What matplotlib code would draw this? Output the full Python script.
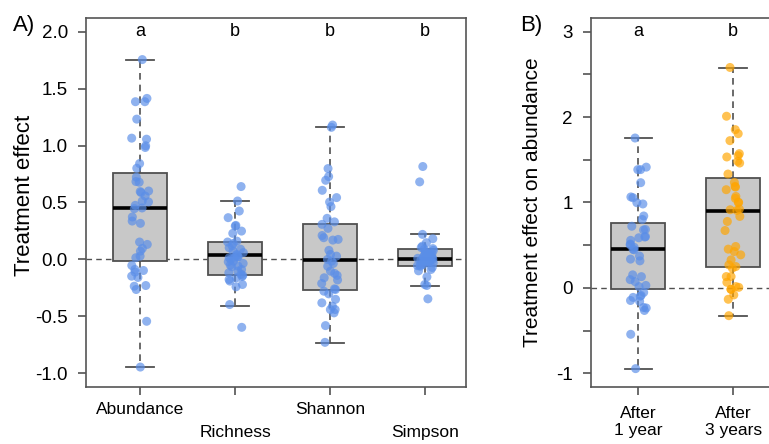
import numpy as np
import matplotlib
matplotlib.use("Agg")
import matplotlib.pyplot as plt

plt.rcParams['font.family'] = ['Liberation Sans', 'DejaVu Sans']

# ---------------- data ----------------
categories_a = ["Abundance", "Richness", "Shannon", "Simpson"]
letters_a = ["a", "b", "b", "b"]
categories_b = ["After\n1 year", "After\n3 years"]
letters_b = ["a", "b"]

abundance = [1.755, 1.414, 1.385, 1.385, 1.232, 1.056, 1.065, 0.998, 0.983, 0.842,
             0.801, 0.722, 0.684, 0.678, 0.596, 0.587, 0.601, 0.557, 0.513, 0.505,
             0.475, 0.446, 0.452, 0.373, 0.337, 0.317, 0.153, 0.132, 0.097, 0.073,
             0.029, 0.015, -0.053, -0.088, -0.097, -0.111, -0.158, -0.147, -0.229,
             -0.235, -0.264, -0.543, -0.945]
richness = [0.64, 0.513, 0.425, 0.367, 0.299, 0.293, 0.249, 0.229, 0.161, 0.153,
            0.14, 0.12, 0.103, 0.09, 0.073, 0.06, 0.044, 0.035, 0.023, 0.023,
            0.015, 0.01, 0.0, -0.015, -0.02, -0.035, -0.05, -0.059, -0.064, -0.088,
            -0.103, -0.117, -0.13, -0.14, -0.15, -0.161, -0.176, -0.19, -0.22, -0.24,
            -0.396, -0.596]
shannon = [1.18, 1.16, 0.798, 0.728, 0.695, 0.607, 0.543, 0.504, 0.464, 0.361,
           0.33, 0.308, 0.273, 0.21, 0.191, 0.176, 0.17, 0.08, 0.044, 0.029,
           0.0, -0.015, -0.035, -0.06, -0.103, -0.123, -0.14, -0.161, -0.18, -0.211,
           -0.258, -0.264, -0.279, -0.302, -0.35, -0.381, -0.411, -0.44, -0.44,
           -0.469, -0.581, -0.728]
simpson = [0.816, 0.681, 0.22, 0.182, 0.147, 0.117, 0.105, 0.095, 0.088, 0.08,
           0.07, 0.06, 0.05, 0.045, 0.04, 0.03, 0.025, 0.02, 0.015, 0.01,
           0.006, 0.003, 0.0, -0.005, -0.01, -0.015, -0.02, -0.025, -0.03, -0.035,
           -0.044, -0.05, -0.055, -0.06, -0.07, -0.088, -0.1, -0.153, -0.22, -0.229,
           -0.346]
after3 = [2.581, 2.01, 1.853, 1.806, 1.724, 1.572, 1.548, 1.533, 1.482, 1.462,
          1.333, 1.235, 1.181, 1.188, 1.15, 1.071, 1.048, 1.001, 1.001, 0.915,
          0.907, 0.923, 0.837, 0.778, 0.672, 0.485, 0.454, 0.426, 0.387, 0.328,
          0.27, 0.231, 0.25, 0.133, 0.133, 0.066, 0.016, 0.007, -0.016, -0.016,
          -0.082, -0.133, -0.325]

# box statistics: (whislo, q1, med, q3, whishi)
box_a = [(-0.948, -0.012, 0.452, 0.757, 1.755),
         (-0.405, -0.135, 0.038, 0.152, 0.513),
         (-0.734, -0.264, -0.006, 0.314, 1.159),
         (-0.232, -0.055, 0.006, 0.094, 0.22)]
box_b = [(-0.948, -0.012, 0.452, 0.757, 1.755),
         (-0.325, 0.25, 0.903, 1.29, 2.58)]

points_a = [abundance, richness, shannon, simpson]
points_b = [abundance, after3]

# ---------------- style ----------------
W, H = 769, 444
fig = plt.figure(figsize=(W / 100, H / 100), dpi=100)
axA = fig.add_axes([86 / W, 1 - 387 / H, (466 - 86) / W, (387 - 18) / H])
axB = fig.add_axes([591 / W, 1 - 387 / H, (780.5 - 591) / W, (387 - 18) / H])

edge = "#505050"
blue = "#5a8ee8"
orange = "#ffa500"
rng = np.random.default_rng(7)


def draw(ax, stats, pts, colors):
    st = []
    for (lo, q1, med, q3, hi) in stats:
        st.append(dict(whislo=lo, q1=q1, med=med, q3=q3, whishi=hi, fliers=[]))
    pos = np.arange(1, len(stats) + 1)
    ax.axhline(0, color=edge, lw=1, ls=(0, (4, 3)), zorder=1)
    ax.bxp(st, positions=pos, widths=0.57, patch_artist=True, showfliers=False,
           boxprops=dict(facecolor="#c8c8c8", edgecolor=edge, lw=1.3),
           medianprops=dict(color="black", lw=2.6),
           whiskerprops=dict(color=edge, lw=1.2, ls=(0, (4, 3))),
           capprops=dict(color=edge, lw=1.3), capwidths=0.29, zorder=2)
    for p, vals, c in zip(pos, pts, colors):
        v = np.asarray(vals)
        jit = rng.uniform(-0.09, 0.09, len(v))
        ax.scatter(p + jit, v, s=42, color=c, alpha=0.68, edgecolors="none", zorder=3)
    for s in ax.spines.values():
        s.set_color("#555555")
        s.set_linewidth(1.2)
    ax.tick_params(colors="#444444", labelcolor="black", length=5.5, width=1.1)
    ax.tick_params(axis="y", labelsize=13.5, pad=7.5)
    ax.tick_params(axis="x", labelsize=12.5)


draw(axA, box_a, points_a, [blue] * 4)
axA.set_xlim(0.43, 4.43)
axA.set_ylim(-1.12, 2.12)
ya = np.arange(-1.0, 2.01, 0.5)
axA.set_yticks(ya)
axA.set_yticklabels([f"{t:.1f}" for t in ya])
axA.set_xticks(np.arange(1, 5))
axA.set_xticklabels(categories_a)
for i, t in enumerate(axA.xaxis.get_major_ticks()):
    t.set_pad(5 if i % 2 == 0 else 22)
for i, l in enumerate(letters_a):
    axA.text(i + 1, 2.0, l, ha="center", va="center", fontsize=13)

draw(axB, box_b, points_b, [blue, orange])
axB.set_xlim(0.5, 2.5)
axB.set_ylim(-1.16, 3.16)
yb = np.arange(-1.0, 3.01, 0.5)
axB.set_yticks(yb)
axB.set_yticklabels([f"{int(t)}" if t == int(t) else "" for t in yb])
axB.set_xticks([1, 2])
axB.set_xticklabels(categories_b, linespacing=1.15)
axB.tick_params(axis="x", pad=8)
for i, l in enumerate(letters_b):
    axB.text(i + 1, 3.0, l, ha="center", va="center", fontsize=13)

fig.text(25 / W, 1 - 195 / H, "Treatment effect", rotation=90, fontsize=16,
         ha="center", va="center")
fig.text(533 / W, 1 - 202 / H, "Treatment effect on abundance", rotation=90,
         fontsize=15, ha="center", va="center")
fig.text(13 / W, 1 - 25 / H, "A)", fontsize=16, ha="left", va="center")
fig.text(520 / W, 1 - 25 / H, "B)", fontsize=16, ha="left", va="center")

fig.savefig("out.png", dpi=100)
